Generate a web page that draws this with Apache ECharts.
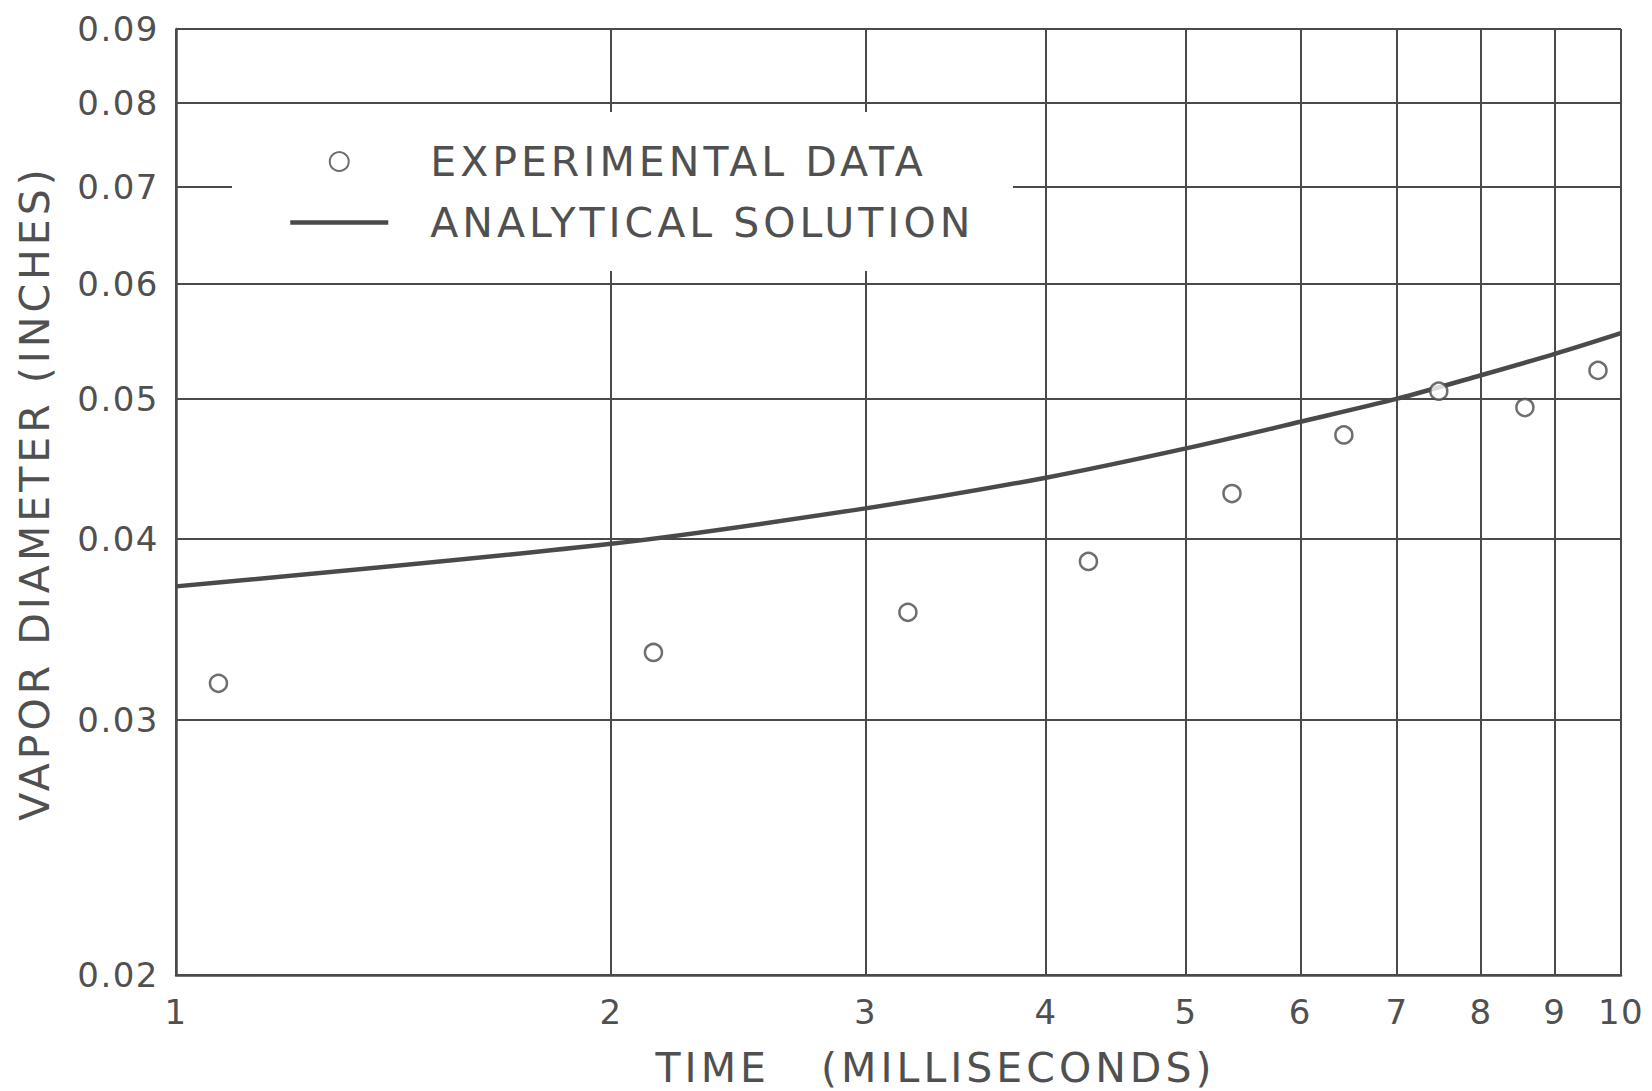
<!DOCTYPE html>
<html>
<head>
<meta charset="utf-8">
<title>Vapor Diameter vs Time</title>
<script src="https://cdn.jsdelivr.net/npm/echarts@6.0.0/dist/echarts.min.js"></script>
<style>
  html, body { margin: 0; padding: 0; background: #ffffff; }
  #chart { width: 1652px; height: 1091px; }
</style>
</head>
<body>
<div id="chart"></div>
<script>
// Experimental measurements: time (ms) and vapor diameter (in)
const expTime = [1.07, 2.14, 3.21, 4.28, 5.38, 6.43, 7.48, 8.58, 9.64];
const expDiameter = [0.0318, 0.0334, 0.0356, 0.0386, 0.0430, 0.0472, 0.0506, 0.0493, 0.0523];

// Analytical solution sampled at whole milliseconds
const solTime = [1, 2, 3, 4, 5, 6, 7, 8, 9, 10];
const solDiameter = [0.0371, 0.0397, 0.0420, 0.0441, 0.0462, 0.0482, 0.0500, 0.0519, 0.0537, 0.0555];

// Log-paper rulings
const xTicks = [1, 2, 3, 4, 5, 6, 7, 8, 9, 10];
const yTicks = [0.02, 0.03, 0.04, 0.05, 0.06, 0.07, 0.08, 0.09];

const INK = '#4a4a4a';
const TEXT = '#505050';
const FONT = 'DejaVu Sans';
const CLEAR = 'rgba(0,0,0,0)';

const chart = echarts.init(document.getElementById('chart'), null, { renderer: 'svg' });

chart.setOption({
  animation: false,
  backgroundColor: '#ffffff',
  grid: { left: 176, right: 31, top: 29, bottom: 116, containLabel: false, outerBoundsMode: 'none' },
  xAxis: {
    type: 'log', logBase: 10, min: 1, max: 10,
    axisLine: { show: true, lineStyle: { color: INK, width: 2.5 } },
    axisTick: { show: false, customValues: xTicks },
    axisLabel: {
      customValues: xTicks, color: TEXT, fontFamily: FONT, fontSize: 34, margin: 20,
      formatter: v => String(Math.round(v))
    },
    splitLine: { show: true, lineStyle: { color: INK, width: 2 } },
    name: 'TIME   (MILLISECONDS)',
    nameLocation: 'middle', nameGap: 72,
    nameTextStyle: { color: TEXT, fontFamily: FONT, fontSize: 41, padding: [0, 0, 0, 74] }
  },
  yAxis: {
    type: 'log', logBase: 10, min: 0.02, max: 0.09,
    axisLine: { show: true, lineStyle: { color: INK, width: 2.5 } },
    axisTick: { show: false, customValues: yTicks },
    axisLabel: {
      customValues: yTicks, color: TEXT, fontFamily: FONT, fontSize: 34, margin: 17,
      formatter: v => v.toFixed(2)
    },
    splitLine: { show: true, lineStyle: { color: INK, width: 2 } },
    name: 'VAPOR DIAMETER (INCHES)',
    nameLocation: 'middle', nameRotate: 90, nameGap: 121,
    nameTextStyle: { color: TEXT, fontFamily: FONT, fontSize: 41, padding: [0, 0, 0, 18] }
  },
  graphic: [{
    // blank panel behind the legend, interrupting the rulings
    type: 'rect', z: 5,
    shape: { x: 232, y: 112, width: 781, height: 159 },
    style: { fill: '#ffffff' }
  }],
  legend: {
    z: 10, left: 288, top: 141, orient: 'vertical', padding: 0,
    itemWidth: 98, itemHeight: 19, itemGap: 20, selectedMode: false,
    textStyle: { color: TEXT, fontFamily: FONT, fontSize: 41, padding: [0, 0, 0, 37] },
    data: [
      { name: 'EXPERIMENTAL DATA' },
      {
        name: 'ANALYTICAL SOLUTION',
        itemStyle: { color: CLEAR, borderColor: CLEAR, borderWidth: 0 },
        lineStyle: { color: INK, width: 4.5 }
      }
    ]
  },
  series: [
    {
      name: 'EXPERIMENTAL DATA',
      type: 'scatter',
      symbol: 'circle',
      symbolSize: 17,
      itemStyle: { color: '#ffffff', borderColor: INK, borderWidth: 2.5 },
      data: expTime.map((t, i) => [t, expDiameter[i]]),
      z: 3
    },
    {
      name: 'ANALYTICAL SOLUTION',
      type: 'line',
      smooth: 0.3,
      symbol: 'none',
      lineStyle: { color: INK, width: 4.5 },
      itemStyle: { color: INK },
      data: solTime.map((t, i) => [t, solDiameter[i]]),
      z: 2
    }
  ]
});

// Widen the stencil-style lettering a little
function spaceLetters() {
  document.querySelectorAll('#chart text').forEach(t => {
    const fs = parseFloat(getComputedStyle(t).fontSize) || 0;
    t.style.letterSpacing = fs > 38 ? '4px' : '1.5px';
  });
}
spaceLetters();
chart.on('finished', spaceLetters);
</script>
</body>
</html>
